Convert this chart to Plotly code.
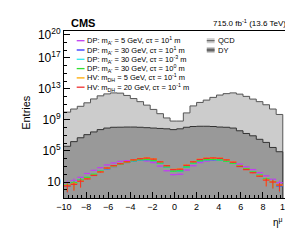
import numpy as np
import plotly.graph_objects as go

# ---------------- data: log10(entries) in 33 bins of width 0.6 from eta = -10 to 9.8 ----------------
eta_lo, eta_hi, bin_w, n_bins = -10.0, 10.0, 0.6, 33
eta_centers = eta_lo + bin_w * (np.arange(n_bins) + 0.5)

qcd_log = [10.0, 10.4, 10.75, 11.2, 11.7, 12.1, 12.35, 12.48, 12.45, 12.15,
           11.75, 11.35, 10.9, 10.35, 9.8, 9.25, 8.85, 8.85, 9.9, 10.8,
           11.25, 11.55, 11.9, 12.2, 12.38, 12.48, 12.32, 12.03, 11.68, 11.35,
           10.95, 10.4, 9.7]
dy_log = [5.6, 6.2, 6.7, 7.1, 7.45, 7.75, 7.95, 8.05, 8.06, 8.08,
          8.08, 8.05, 8.0, 7.95, 7.9, 7.85, 7.75, 7.85, 8.05, 8.15,
          8.18, 8.18, 8.15, 8.08, 8.05, 7.95, 7.6, 7.25, 6.95, 6.5,
          6.1, 5.45, 4.9]

dp5_ct10_log = [0.9, 1.2, 1.6, 2.1, 2.5, 2.85, 3.2, 3.45, 3.65, 3.75,
                3.8, 3.8, 3.72, 3.5, 3.05, 2.45, 1.95, 2.0, 2.55, 3.1,
                3.5, 3.7, 3.8, 3.8, 3.72, 3.55, 3.3, 2.95, 2.6, 2.2,
                1.8, 1.35, 0.9]
dp30_ct10_log = [0.5, 0.85, 1.2, 1.55, 1.95, 2.35, 2.7, 3.0, 3.27, 3.52,
                 3.72, 3.85, 3.88, 3.76, 3.43, 2.93, 2.38, 2.43, 2.93, 3.43,
                 3.73, 3.86, 3.88, 3.83, 3.66, 3.4, 3.08, 2.7, 2.28, 1.85,
                 1.38, 1.0, 0.5]
dp30_ct1em3_log = [0.55, 0.88, 1.22, 1.58, 1.98, 2.38, 2.73, 3.03, 3.29, 3.54,
                   3.74, 3.86, 3.89, 3.77, 3.44, 2.94, 2.39, 2.44, 2.94, 3.44,
                   3.74, 3.87, 3.89, 3.84, 3.67, 3.41, 3.09, 2.71, 2.29, 1.87,
                   1.39, 1.02, 0.55]
dp30_ct1_log = [0.6, 0.9, 1.25, 1.6, 2.0, 2.4, 2.75, 3.05, 3.3, 3.55,
                3.75, 3.87, 3.9, 3.78, 3.45, 2.95, 2.4, 2.45, 2.95, 3.45,
                3.75, 3.88, 3.9, 3.85, 3.68, 3.42, 3.1, 2.72, 2.3, 1.88,
                1.4, 1.05, 0.6]
hv5_ct01_log = [0.55, 0.75, 1.1, 1.45, 1.85, 2.3, 2.78, 3.1, 3.37, 3.62,
                3.87, 4.03, 4.1, 3.97, 3.62, 3.12, 2.62, 2.67, 3.17, 3.62,
                3.92, 4.06, 4.1, 4.06, 3.87, 3.57, 3.02, 2.62, 2.22, 1.77,
                1.3, 1.0, 0.6]
hv20_ct01_log = [0.5, 0.7, 1.1, 1.4, 1.85, 2.3, 2.8, 3.1, 3.35, 3.6,
                 3.85, 4.0, 4.08, 3.95, 3.6, 3.1, 2.6, 2.65, 3.15, 3.6,
                 3.9, 4.05, 4.1, 4.05, 3.85, 3.55, 3.0, 2.6, 2.2, 1.75,
                 1.25, 1.0, 0.6]

signal_names = ["DP: m<sub>A'</sub> = 5 GeV, cτ = 10<sup>1</sup> m",
                "DP: m<sub>A'</sub> = 30 GeV, cτ = 10<sup>1</sup> m",
                "DP: m<sub>A'</sub> = 30 GeV, cτ = 10<sup>-3</sup> m",
                "DP: m<sub>A'</sub> = 30 GeV, cτ = 10<sup>0</sup> m",
                "HV: m<sub>DH</sub> = 5 GeV, cτ = 10<sup>-1</sup> m",
                "HV: m<sub>DH</sub> = 20 GeV, cτ = 10<sup>-1</sup> m"]
signal_logs = [dp5_ct10_log, dp30_ct10_log, dp30_ct1em3_log, dp30_ct1_log, hv5_ct01_log, hv20_ct01_log]
signal_colors = ["#c040f0", "#3030ff", "#30e8f0", "#30e030", "#ffaa00", "#f03030"]

bkg_names = ["QCD", "DY"]
bkg_fill = ["#cccccc", "#999999"]
bkg_line = ["#555555", "#333333"]

y_range_log = [-1.06, 20.45]
y_tickvals_log = [1, 5, 9, 13, 17, 20]
x_tickvals = list(range(-10, 11, 2))

# ---------------- figure geometry ----------------
W, H = 293, 240
L, R, T, B = 56, 11, 23, 50
pw, ph = W - L - R, H - T - B


def px_x(px):
    return (px - L) / pw


def px_y(py):
    return (H - B - py) / ph


fig = go.Figure()

y_floor = 10.0 ** y_range_log[0]
edges = list(eta_lo + bin_w * np.arange(n_bins + 1))
for name, vals, fc, lc in zip(bkg_names, [qcd_log, dy_log], bkg_fill, bkg_line):
    yv = [10.0 ** v for v in vals]
    fig.add_trace(go.Scatter(x=edges + [edges[-1]], y=yv + [yv[-1], y_floor], mode="lines", line_shape="hv",
                             fill="tozeroy", fillcolor=fc, line=dict(color=lc, width=1),
                             name=name, showlegend=False, hoverinfo="skip"))

for name, vals, col in zip(signal_names, signal_logs, signal_colors):
    yv = np.array([10.0 ** v for v in vals])
    err = np.where(yv < 20, yv * 0.85, 0.0)
    fig.add_trace(go.Scatter(x=eta_centers, y=yv, mode="markers", marker=dict(size=1, color=col),
                             error_x=dict(type="constant", value=bin_w / 2, width=0, thickness=1.3, color=col),
                             error_y=dict(type="data", array=err, width=0, thickness=1, color=col),
                             name=name, showlegend=False))

font = "Liberation Sans, Arial, sans-serif"
fig.update_layout(
    width=W, height=H, margin=dict(l=L, r=R, t=T, b=B),
    paper_bgcolor="white", plot_bgcolor="white",
    font=dict(family=font, color="black"),
    xaxis=dict(range=[eta_lo, eta_hi], showline=True, mirror=True, linecolor="black", linewidth=1,
               ticks="inside", ticklen=6, tickwidth=1, tickcolor="black",
               tickvals=x_tickvals, tickfont=dict(size=9), ticklabeloverflow="allow",
               minor=dict(ticks="inside", ticklen=3, dtick=0.4, tickcolor="black"),
               showgrid=False, zeroline=False),
    yaxis=dict(type="log", range=y_range_log, showline=True, mirror=True, linecolor="black", linewidth=1,
               ticks="inside", ticklen=6, tickwidth=1, tickcolor="black",
               tickvals=[10.0 ** v for v in y_tickvals_log],
               ticktext=["10" if v == 1 else f"10<sup>{v}</sup>" for v in y_tickvals_log],
               tickfont=dict(size=12), ticklabeloverflow="allow",
               minor=dict(ticks="inside", ticklen=3, tickvals=[10.0 ** v for v in range(-1, 21)], tickcolor="black"),
               showgrid=False, zeroline=False),
)

ann = []
ann.append(dict(text="<b>CMS</b>", x=px_x(61), y=px_y(15), xref="paper", yref="paper",
                xanchor="left", yanchor="middle", showarrow=False, font=dict(size=11)))
ann.append(dict(text="715.0 fb<sup>-1</sup> (13.6 TeV)", x=px_x(285), y=px_y(15), xref="paper", yref="paper",
                xanchor="right", yanchor="middle", showarrow=False, font=dict(size=8)))
ann.append(dict(text="Entries", x=px_x(17), y=px_y(104), xref="paper", yref="paper", textangle=-90,
                xanchor="center", yanchor="middle", showarrow=False, font=dict(size=11)))
ann.append(dict(text="η<sup>μ</sup>", x=px_x(282), y=px_y(214), xref="paper", yref="paper",
                xanchor="right", yanchor="middle", showarrow=False, font=dict(size=10)))

shapes = []
for i, (name, col) in enumerate(zip(signal_names, signal_colors)):
    yy = 32.7 + 9.3 * i
    shapes.append(dict(type="line", xref="paper", yref="paper", x0=px_x(69), x1=px_x(77),
                       y0=px_y(yy), y1=px_y(yy), line=dict(color=col, width=1.3)))
    ann.append(dict(text=name, x=px_x(77.5), y=px_y(yy), xref="paper", yref="paper",
                    xanchor="left", yanchor="middle", showarrow=False, font=dict(size=7.5)))
for i, (name, fc, lc) in enumerate(zip(bkg_names, bkg_fill, bkg_line)):
    yy = 32.7 + 9.3 * i
    shapes.append(dict(type="rect", xref="paper", yref="paper", x0=px_x(202), x1=px_x(210),
                       y0=px_y(yy + 2.5), y1=px_y(yy - 2.5), fillcolor=fc, line=dict(width=0)))
    shapes.append(dict(type="line", xref="paper", yref="paper", x0=px_x(202), x1=px_x(210),
                       y0=px_y(yy), y1=px_y(yy), line=dict(color=lc, width=1)))
    ann.append(dict(text=name, x=px_x(211.5), y=px_y(yy), xref="paper", yref="paper",
                    xanchor="left", yanchor="middle", showarrow=False, font=dict(size=7.5)))

fig.update_layout(annotations=ann, shapes=shapes)
fig.write_html("out.html")
